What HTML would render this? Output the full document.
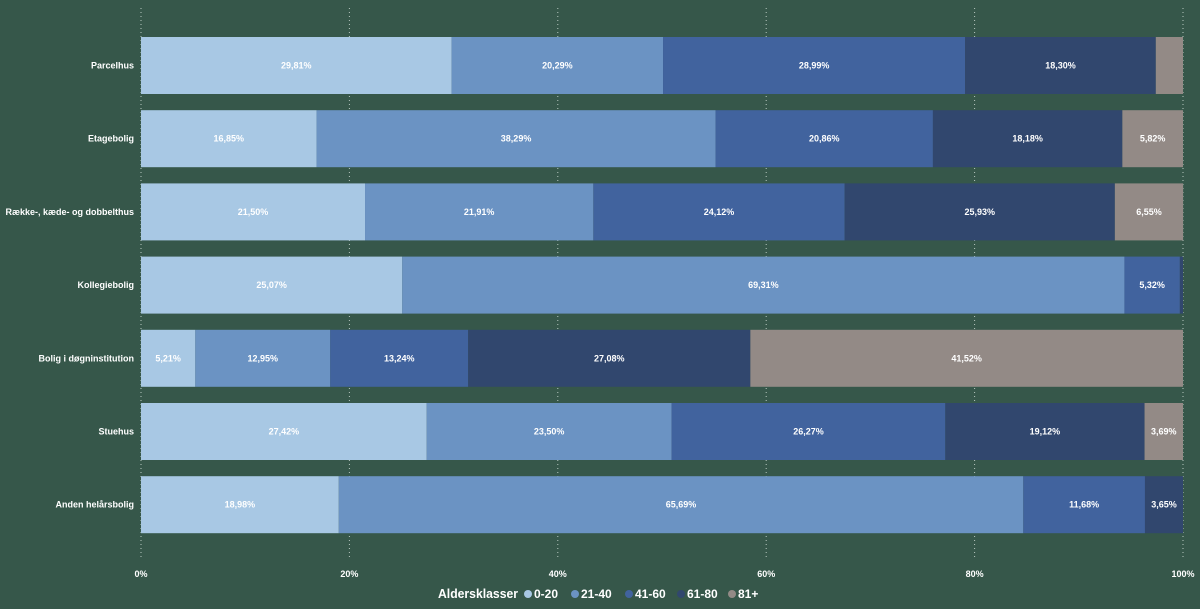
<!DOCTYPE html>
<html><head><meta charset="utf-8"><style>
body{margin:0;background:#36574a;}
svg{display:block;font-family:"Liberation Sans",sans-serif;}
</style></head><body>
<svg id="chart" width="1200" height="609"></svg>
<script>
const categories=["Parcelhus","Etagebolig","Række-, kæde- og dobbelthus","Kollegiebolig","Bolig i døgninstitution","Stuehus","Anden helårsbolig"];
const seriesNames=["0-20","21-40","41-60","61-80","81+"];
const s0=[29.81,16.85,21.50,25.07,5.21,27.42,18.98];
const s1=[20.29,38.29,21.91,69.31,12.95,23.50,65.69];
const s2=[28.99,20.86,24.12,5.32,13.24,26.27,11.68];
const s3=[18.30,18.18,25.93,0.30,27.08,19.12,3.65];
const s4=[2.61,5.82,6.55,0,41.52,3.69,0];
const ticks=[0,20,40,60,80,100];
const colors=["#a8c8e4","#6b93c3","#41639e","#31476e","#938a86"];
const series=[s0,s1,s2,s3,s4];
const NS="http://www.w3.org/2000/svg";
const svg=document.getElementById('chart');
const x0=141,x1=1183;
const xs=v=>x0+(x1-x0)*v/100;
const rowTop=i=>37+i*73.2, bh=57;
function mk(t,a){const e=document.createElementNS(NS,t);for(const k in a)e.setAttribute(k,a[k]);svg.appendChild(e);return e;}
ticks.forEach(t=>{
  const l=mk('line',{x1:xs(t),x2:xs(t),y1:8,y2:560,stroke:'#b8c8c0','stroke-width':1,'stroke-dasharray':'1,3'});
  
  
  const tx=mk('text',{x:xs(t),y:577,'text-anchor':'middle','font-size':9,'font-weight':'bold',fill:'#fff'});
  tx.textContent=t+'%';
  
  
});
categories.forEach((c,i)=>{
  const y=rowTop(i);
  const lb=mk('text',{x:134,y:y+bh/2+3,'text-anchor':'end','font-size':9,'font-weight':'bold',fill:'#fff'});
  lb.textContent=c;
  
  
  let acc=0;
  series.forEach((s,j)=>{
    const v=s[i]; if(v<=0)return;
    const r=mk('rect',{x:xs(acc),y:y,width:xs(acc+v)-xs(acc),height:bh,fill:colors[j]});
    
    
    if(v>=3){
      const t=mk('text',{x:(xs(acc)+xs(acc+v))/2,y:y+bh/2+3,'text-anchor':'middle','font-size':9,'font-weight':'bold',fill:'#fff'});
      t.textContent=v.toFixed(2).replace('.',',')+'%';
      
      
    }
    acc+=v;
  });
});
const lt=mk('text',{x:438,y:598,'font-size':13,'font-weight':'bold',fill:'#fff',textLength:80,lengthAdjust:'spacingAndGlyphs'});
lt.textContent='Aldersklasser';


const lx=[528,575,629,681,732];
seriesNames.forEach((n,j)=>{
  const c=mk('circle',{cx:lx[j],cy:594,r:4,fill:colors[j]});
  
  
  const t=mk('text',{x:lx[j]+6,y:598,'font-size':12,'font-weight':'bold',fill:'#fff'});
  t.textContent=n;
  
  
});
</script>
</body></html>
